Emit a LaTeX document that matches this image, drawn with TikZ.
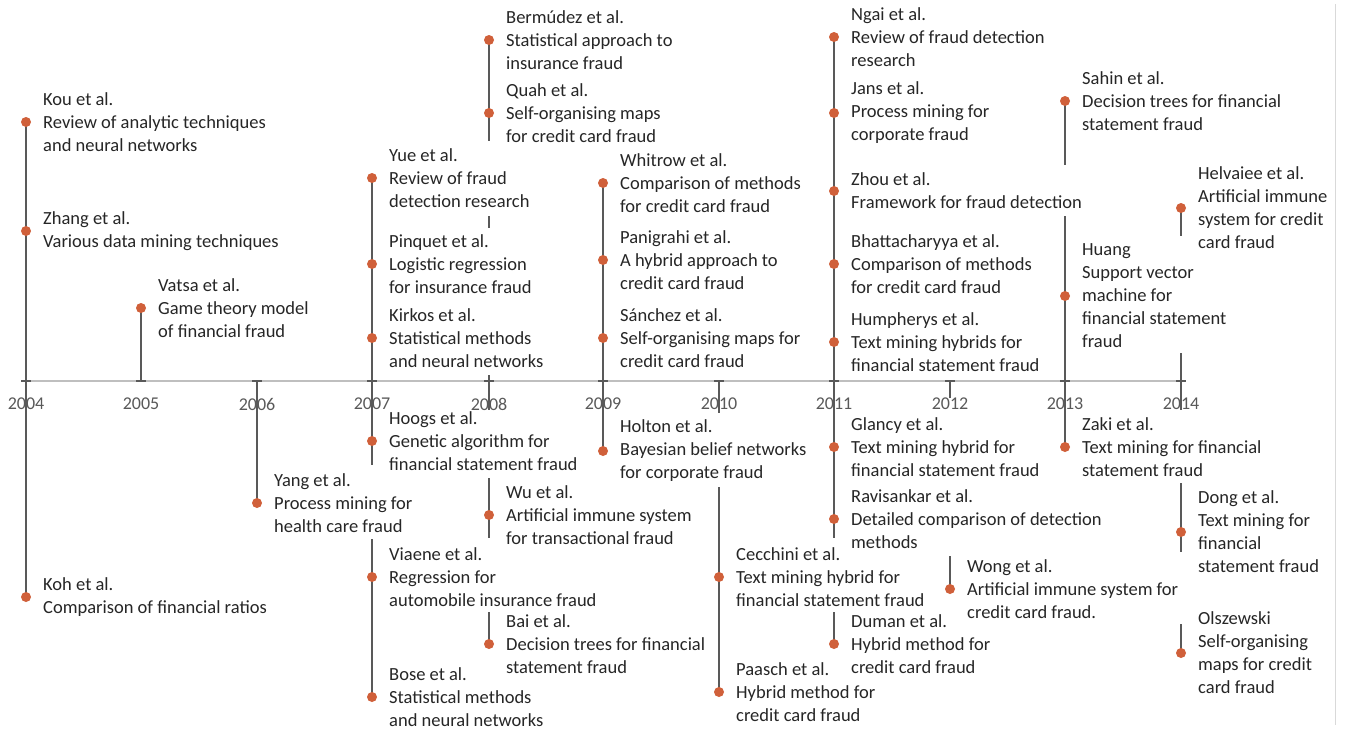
\documentclass[tikz,border=0pt]{standalone}
\usepackage{fontspec}
\setmainfont{Carlito}
\definecolor{dotc}{RGB}{208,96,58}
\definecolor{stemc}{RGB}{89,89,89}
\definecolor{axisc}{RGB}{191,191,191}
\definecolor{txtc}{RGB}{38,38,38}
\definecolor{yearc}{RGB}{89,89,89}
\definecolor{framec}{RGB}{217,217,217}
\newcommand\lblfont{\fontsize{18.5}{23}\selectfont}
\newcommand\yrfont{\fontsize{18}{22}\selectfont}
\tikzset{
  lbl/.style={anchor=west, align=left, inner sep=0pt, font=\lblfont, text=txtc},
  yr/.style={anchor=center, inner sep=0pt, font=\yrfont, text=yearc},
  stem/.style={draw=stemc, line width=1.6pt},
  axisline/.style={draw=axisc, line width=2pt},
  dotm/.style={circle, fill=dotc, inner sep=0pt, minimum size=10pt},
}
% \ev{name}{x}{y}{text}
\newcommand\ev[4]{%
  \node[dotm] (d#1) at (#2,#3) {};
  \node[lbl] (#1) at (#2+17,#3) {#4};
}
\newcommand\seg[3]{\draw[stem] (#1,#2) coordinate (s#1a#2) -- (#1,#3) coordinate (s#1b#2);}
\begin{document}
\begin{tikzpicture}[x=1pt,y=-1pt]
\useasboundingbox (0,0) rectangle (1345,729);
\fill[white] (0,0) rectangle (1345,729);
% frame line on the right
\draw[framec, line width=1pt] (1335,4) coordinate (fa) -- (1335,725) coordinate (fb);
% axis
\coordinate (ax0) at (26,381);
\coordinate (ax1) at (1181,381);
\draw[axisline] (ax0) -- (ax1);
% stems (visible parts)
\seg{26}{122}{381}
\seg{26}{381}{597}
\seg{141}{308}{381}
\seg{257}{381}{503}
\seg{372}{178}{381}
\seg{372}{381}{465}
\seg{372}{539}{697}
\seg{489}{40}{141}
\seg{489}{216}{228}
\seg{489}{375}{410}
\seg{489}{478}{538}
\seg{489}{612}{644}
\seg{603}{183}{451}
\seg{719}{381}{413}
\seg{719}{487}{692}
\seg{834}{36}{538}
\seg{834}{612}{644}
\seg{950}{381}{398}
\seg{950}{556}{589}
\seg{1065}{101}{165}
\seg{1065}{216}{447}
\seg{1181}{208}{236}
\seg{1181}{353}{410}
\seg{1181}{483}{552}
\seg{1181}{624}{653}
% caps at the axis
\foreach \yx in {26,141,257,372,489,603,719,834,950,1065,1181}{
  \draw[stem, line width=1.2pt] (\yx-5,381) -- (\yx+5,381);
}
% year labels
\node[yr] (y2004) at (26,404) {2004};
\node[yr] (y2005) at (141,404) {2005};
\node[yr] (y2006) at (257,404) {2006};
\node[yr] (y2007) at (372,404) {2007};
\node[yr] (y2008) at (489,404) {2008};
\node[yr] (y2009) at (603,404) {2009};
\node[yr] (y2010) at (719,404) {2010};
\node[yr] (y2011) at (834,404) {2011};
\node[yr] (y2012) at (950,404) {2012};
\node[yr] (y2013) at (1065,404) {2013};
\node[yr] (y2014) at (1181,404) {2014};
% events
\ev{kou}{26}{122}{Kou et al.\\Review of analytic techniques\\and neural networks}
\ev{zhang}{26}{231}{Zhang et al.\\Various data mining techniques}
\ev{koh}{26}{597}{Koh et al.\\Comparison of financial ratios}
\ev{vatsa}{141}{308}{Vatsa et al.\\Game theory model\\of financial fraud}
\ev{yang}{257}{503}{Yang et al.\\Process mining for\\health care fraud}
\ev{yue}{372}{178}{Yue et al.\\Review of fraud\\detection research}
\ev{pinquet}{372}{264}{Pinquet et al.\\Logistic regression\\for insurance fraud}
\ev{kirkos}{372}{338}{Kirkos et al.\\Statistical methods\\and neural networks}
\ev{hoogs}{372}{441}{Hoogs et al.\\Genetic algorithm for\\financial statement fraud}
\ev{viaene}{372}{577}{Viaene et al.\\Regression for\\automobile insurance fraud}
\ev{bose}{372}{697}{Bose et al.\\Statistical methods\\and neural networks}
\ev{bermudez}{489}{40}{Bermúdez et al.\\Statistical approach to\\insurance fraud}
\ev{quah}{489}{113}{Quah et al.\\Self-organising maps\\for credit card fraud}
\ev{wu}{489}{515}{Wu et al.\\Artificial immune system\\for transactional fraud}
\ev{bai}{489}{644}{Bai et al.\\Decision trees for financial\\statement fraud}
\ev{whitrow}{603}{183}{Whitrow et al.\\Comparison of methods\\for credit card fraud}
\ev{panigrahi}{603}{260}{Panigrahi et al.\\A hybrid approach to\\credit card fraud}
\ev{sanchez}{603}{338}{Sánchez et al.\\Self-organising maps for\\credit card fraud}
\ev{holton}{603}{451}{Holton et al.\\Bayesian belief networks\\for corporate fraud}
\ev{cecchini}{719}{577}{Cecchini et al.\\Text mining hybrid for\\financial statement fraud}
\ev{paasch}{719}{692}{Paasch et al.\\Hybrid method for\\credit card fraud}
\ev{ngai}{834}{37}{Ngai et al.\\Review of fraud detection\\research}
\ev{jans}{834}{113}{Jans et al.\\Process mining for\\corporate fraud}
\ev{zhou}{834}{191}{Zhou et al.\\Framework for fraud detection}
\ev{bhatta}{834}{264}{Bhattacharyya et al.\\Comparison of methods\\for credit card fraud}
\ev{humpherys}{834}{342}{Humpherys et al.\\Text mining hybrids for\\financial statement fraud}
\ev{glancy}{834}{447}{Glancy et al.\\Text mining hybrid for\\financial statement fraud}
\ev{ravisankar}{834}{519}{Ravisankar et al.\\Detailed comparison of detection\\methods}
\ev{duman}{834}{644}{Duman et al.\\Hybrid method for\\credit card fraud}
\ev{wong}{950}{589}{Wong et al.\\Artificial immune system for\\credit card fraud.}
\ev{sahin}{1065}{101}{Sahin et al.\\Decision trees for financial\\statement fraud}
\ev{huang}{1065}{296}{Huang\\Support vector\\machine for\\financial statement\\fraud}
\ev{zaki}{1065}{447}{Zaki et al.\\Text mining for financial\\statement fraud}
\ev{helvaiee}{1181}{208}{Helvaiee et al.\\Artificial immune\\system for credit\\card fraud}
\ev{dong}{1181}{532}{Dong et al.\\Text mining for\\financial\\statement fraud}
\ev{olszewski}{1181}{653}{Olszewski\\Self-organising\\maps for credit\\card fraud}
\end{tikzpicture}
\end{document}
